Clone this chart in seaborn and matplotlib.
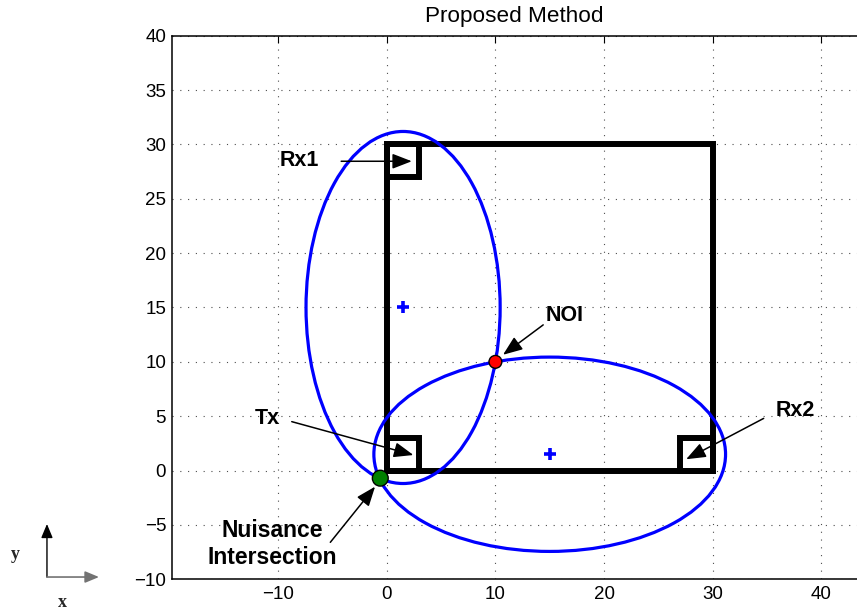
import numpy as np
import pandas as pd
import matplotlib
matplotlib.use("Agg")
import matplotlib.pyplot as plt
from matplotlib.patches import Ellipse, Rectangle, FancyArrowPatch
import seaborn as sns

# Sensor box centres
tx_pos = (1.5, 1.5)
rx1_pos = (1.5, 28.5)
rx2_pos = (28.5, 1.5)
box_size = 3.0
room_size = 30.0

# Intersection points of the two ellipses
noi_point = (10.0, 10.0)
nuisance_point = (-0.6, -0.7)

x_ticks = [-10, 0, 10, 20, 30, 40]
y_ticks = [-10, -5, 0, 5, 10, 15, 20, 25, 30, 35, 40]

label_names = ["Rx1", "Tx", "Rx2", "NOI", "Nuisance\nIntersection"]

sns.set_theme(style="white")
plt.rcParams["font.family"] = ["Liberation Sans", "DejaVu Sans"]

fig = plt.figure(figsize=(8.57, 6.11), dpi=100)
ax = fig.add_axes([0.2004, 0.0519, 0.7997, 0.8897])
ax.set_xlim(-19.8, 43.3)
ax.set_ylim(-10, 40)

# Room outline and the three sensor boxes
ax.add_patch(Rectangle((0, 0), room_size, room_size, fill=False,
                       edgecolor="black", linewidth=4.3, joinstyle="miter", zorder=3))
for cx, cy in (tx_pos, rx1_pos, rx2_pos):
    ax.add_patch(Rectangle((cx - box_size / 2, cy - box_size / 2), box_size, box_size,
                           fill=False, edgecolor="black", linewidth=4.3,
                           joinstyle="miter", zorder=3))


def ellipse_through(f1, f2, p):
    f1, f2, p = map(np.asarray, (f1, f2, p))
    a = (np.linalg.norm(p - f1) + np.linalg.norm(p - f2)) / 2
    c = np.linalg.norm(f2 - f1) / 2
    b = np.sqrt(a ** 2 - c ** 2)
    centre = (f1 + f2) / 2
    ang = np.degrees(np.arctan2(f2[1] - f1[1], f2[0] - f1[0]))
    return centre, a, b, ang


centres = []
for rx in (rx1_pos, rx2_pos):
    centre, a, b, ang = ellipse_through(tx_pos, rx, noi_point)
    centres.append(centre)
    ax.add_patch(Ellipse(centre, 2 * a, 2 * b, angle=ang, fill=False,
                         edgecolor="#0000ff", linewidth=2.3, zorder=4))

centre_df = pd.DataFrame(centres, columns=["x", "y"])
sns.scatterplot(data=centre_df, x="x", y="y", marker="+", color="#0000ff",
                s=70, linewidth=2.6, ax=ax, zorder=5, legend=False)

pts = pd.DataFrame({"x": [noi_point[0], nuisance_point[0]],
                    "y": [noi_point[1], nuisance_point[1]],
                    "kind": ["NOI", "Nuisance"]})
sns.scatterplot(data=pts, x="x", y="y", hue="kind", size="kind",
                palette={"NOI": "#ff0000", "Nuisance": "#008000"},
                sizes={"NOI": 85, "Nuisance": 130},
                edgecolor="black", linewidth=1.0, ax=ax, zorder=6, legend=False)

# Callout labels with arrows
text_xy = [(-8.1, 28.5), (-11.0, 4.8), (37.6, 5.5), (16.4, 14.25), (-10.55, -6.75)]
tail_xy = [(-4.2, 28.45), (-8.75, 4.5), (34.7, 4.8), (14.4, 13.4), (-5.2, -6.6)]
head_xy = [(2.3, 28.45), (2.45, 1.43), (27.56, 1.04), (10.7, 10.65), (-1.08, -1.48)]
text_size = [15.5, 15.5, 15.5, 15.5, 16.5]
for name, txy, t0, t1, fs in zip(label_names, text_xy, tail_xy, head_xy, text_size):
    ax.text(txy[0], txy[1], name, ha="center", va="center", fontsize=fs,
            fontweight="bold", color="black", linespacing=1.25, zorder=7)
    ax.add_patch(FancyArrowPatch(t0, t1, arrowstyle="-|>,head_length=0.85,head_width=0.33",
                                 mutation_scale=14, color="black", linewidth=1.1,
                                 shrinkA=0, shrinkB=0, zorder=7))

ax.set_xticks(x_ticks)
ax.set_yticks(y_ticks)
ax.set_xticklabels([f"{v:d}".replace("-", "\u2212") for v in x_ticks])
ax.set_yticklabels([f"{v:d}".replace("-", "\u2212") for v in y_ticks])
ax.tick_params(direction="in", length=5, width=0.8, colors="black",
               labelsize=13.5, top=True, right=False, pad=4)
ax.tick_params(axis="x", pad=5)
ax.grid(True, color="0.3", linestyle=(0, (1, 6)), linewidth=0.8)
ax.set_axisbelow(True)
for side in ("left", "bottom", "top"):
    ax.spines[side].set_color("black")
    ax.spines[side].set_linewidth(1.1)
ax.spines["right"].set_visible(False)
ax.set_xlabel("")
ax.set_ylabel("")
ax.set_title("Proposed Method", fontsize=16.2, pad=10, color="black")

# Orientation glyph in the lower-left corner
fig.patches.append(FancyArrowPatch((0.0548, 0.0556), (0.0548, 0.1424),
                                   transform=fig.transFigure, arrowstyle="-|>,head_length=0.6,head_width=0.25",
                                   mutation_scale=14, color="black", linewidth=1.0,
                                   shrinkA=0, shrinkB=0))
fig.patches.append(FancyArrowPatch((0.0548, 0.0556), (0.1155, 0.0556),
                                   transform=fig.transFigure, arrowstyle="-|>,head_length=0.6,head_width=0.25",
                                   mutation_scale=14, color="0.45", linewidth=1.2,
                                   shrinkA=0, shrinkB=0))
fig.text(0.0175, 0.0917, "y", ha="center", va="center", fontsize=13,
         fontweight="bold", family=["Liberation Serif", "DejaVu Serif"])
fig.text(0.0723, 0.0147, "x", ha="center", va="center", fontsize=13,
         fontweight="bold", family=["Liberation Serif", "DejaVu Serif"])

fig.savefig("out.png", dpi=100)
